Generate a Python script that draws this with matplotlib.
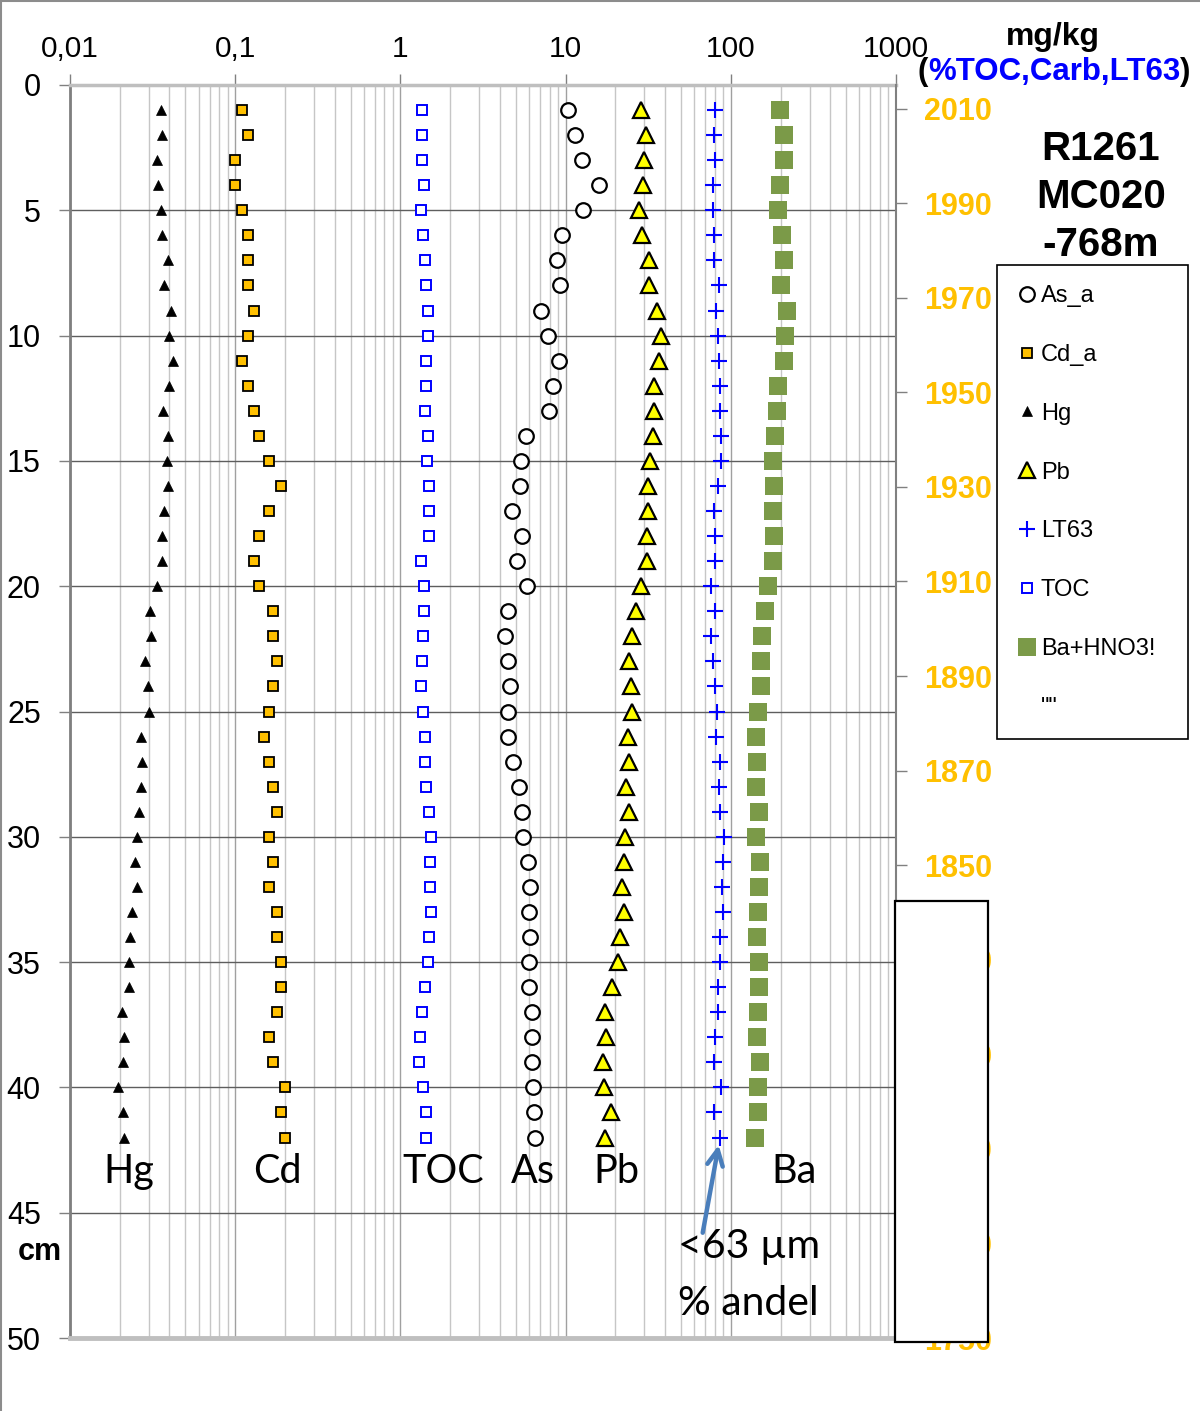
import matplotlib
matplotlib.use('Agg')
import matplotlib.pyplot as plt
from matplotlib.lines import Line2D
from matplotlib.patches import Rectangle
from matplotlib.ticker import NullFormatter

plt.rcParams['font.family'] = ['Liberation Sans', 'DejaVu Sans']

# ---------------- data ----------------
depth = list(range(1, 43))

hg = [0.0356, 0.0359, 0.0337, 0.0340, 0.0356, 0.0359, 0.0394, 0.0371, 0.0411, 0.0400,
      0.0419, 0.0400, 0.0365, 0.0390, 0.0389, 0.0394, 0.0371, 0.0359, 0.0359, 0.0337,
      0.0307, 0.0310, 0.0285, 0.0298, 0.0300, 0.0269, 0.0273, 0.0268, 0.0261, 0.0254,
      0.0249, 0.0253, 0.0238, 0.0231, 0.0229, 0.0228, 0.0207, 0.0213, 0.0210, 0.0196,
      0.0210, 0.0213]

cd = [0.11, 0.12, 0.10, 0.10, 0.11, 0.12, 0.12, 0.12, 0.13, 0.12,
      0.11, 0.12, 0.13, 0.14, 0.16, 0.19, 0.16, 0.14, 0.13, 0.14,
      0.17, 0.17, 0.18, 0.17, 0.16, 0.15, 0.16, 0.17, 0.18, 0.16,
      0.17, 0.16, 0.18, 0.18, 0.19, 0.19, 0.18, 0.16, 0.17, 0.20,
      0.19, 0.20]

toc = [1.35, 1.35, 1.36, 1.38, 1.34, 1.37, 1.41, 1.43, 1.46, 1.46,
       1.43, 1.43, 1.40, 1.46, 1.44, 1.48, 1.50, 1.48, 1.33, 1.39,
       1.38, 1.37, 1.36, 1.33, 1.37, 1.40, 1.41, 1.42, 1.48, 1.54,
       1.52, 1.52, 1.54, 1.48, 1.46, 1.41, 1.36, 1.32, 1.30, 1.37,
       1.43, 1.42]

as_a = [10.3, 11.4, 12.5, 16.0, 12.7, 9.55, 8.9, 9.24, 7.05, 7.78,
        9.11, 8.42, 7.96, 5.75, 5.39, 5.28, 4.77, 5.41, 5.07, 5.80,
        4.49, 4.27, 4.51, 4.58, 4.47, 4.47, 4.79, 5.19, 5.41, 5.51,
        5.94, 6.05, 6.00, 6.05, 6.00, 6.00, 6.22, 6.25, 6.25, 6.31,
        6.43, 6.55]

pb = [28.8, 30.5, 29.8, 29.3, 27.8, 29.0, 32.0, 32.1, 35.7, 38.0,
      36.6, 34.3, 34.1, 34.0, 32.4, 31.7, 31.6, 31.0, 31.0, 28.8,
      26.8, 25.1, 24.2, 25.0, 25.2, 23.7, 24.3, 23.3, 24.3, 22.9,
      22.7, 21.9, 22.6, 21.2, 20.9, 19.2, 17.2, 17.5, 16.8, 17.1,
      18.7, 17.4]

lt63 = [80.0, 79.2, 80.0, 78.2, 78.5, 79.0, 79.0, 85.0, 81.5, 84.1,
        85.3, 86.1, 85.7, 86.9, 87.8, 83.7, 79.0, 80.3, 80.7, 76.0,
        80.0, 75.7, 78.2, 80.3, 83.0, 81.9, 86.1, 85.3, 85.7, 90.8,
        89.1, 88.6, 90.3, 86.5, 86.5, 84.1, 84.1, 80.7, 78.7, 87.4,
        79.0, 86.1]

ba = [198, 210, 210, 198, 193, 203, 211, 202, 218, 212,
      209, 193, 190, 184, 180, 182, 181, 182, 180, 169,
      162, 154, 152, 152, 146, 142, 145, 143, 148, 142,
      151, 149, 147, 145, 149, 148, 147, 144, 150, 146,
      147, 140]

x_ticks = [0.01, 0.1, 1, 10, 100, 1000]
x_tick_labels = ['0,01', '0,1', '1', '10', '100', '1000']
depth_ticks = [0, 5, 10, 15, 20, 25, 30, 35, 40, 45, 50]
year_ticks = [1750, 1770, 1790, 1810, 1830, 1850, 1870, 1890, 1910, 1930, 1950, 1970, 1990, 2010]

# ---------------- figure ----------------
W, H = 1200, 1411
fig = plt.figure(figsize=(W / 100, H / 100), dpi=100)
ax = fig.add_axes([70 / W, 1 - 1338 / H, 826 / W, 1253 / H])
ax.set_xscale('log')
ax.set_xlim(0.01, 1000)
ax.set_ylim(50, 0)

h_as, = ax.plot(as_a, depth, ls='none', marker='o', ms=10.5, mfc='white', mec='black', mew=1.6, label='As_a', zorder=3)
h_cd, = ax.plot(cd, depth, ls='none', marker='s', ms=7.8, mfc='#FFC000', mec='black', mew=1.3, label='Cd_a', zorder=3)
h_hg, = ax.plot(hg, depth, ls='none', marker='^', ms=7.2, mfc='black', mec='black', mew=0.5, label='Hg', zorder=3)
h_pb, = ax.plot(pb, depth, ls='none', marker='^', ms=11, mfc='#FFFF00', mec='black', mew=1.6, label='Pb', zorder=3)
h_lt, = ax.plot(lt63, depth, ls='none', marker='+', ms=11.5, mec='#0000FF', mew=1.5, label='LT63', zorder=3)
h_toc, = ax.plot(toc, depth, ls='none', marker='s', ms=7.8, mfc='white', mec='#0000FF', mew=1.4, label='TOC', zorder=3)
h_ba, = ax.plot(ba, depth, ls='none', marker='s', ms=13, mfc='#7b9a48', mec='#7b9a48', mew=0, label='Ba+HNO3!', zorder=3)

# grid
ax.set_axisbelow(True)
ax.grid(which='minor', axis='x', color='#c6c6c6', lw=1)
ax.grid(which='major', axis='x', color='#a0a0a0', lw=1)
ax.grid(which='major', axis='y', color='#5e5e5e', lw=1)

# ticks
ax.set_xticks(x_ticks)
ax.set_xticklabels(x_tick_labels)
ax.xaxis.set_minor_formatter(NullFormatter())
ax.tick_params(axis='x', which='major', bottom=False, top=True, labelbottom=False, labeltop=True,
               length=8, width=1, color='#808080', pad=8, labelsize=21.5)
ax.tick_params(axis='x', which='minor', bottom=False, top=False, length=0)
ax.set_yticks(depth_ticks)
ax.tick_params(axis='y', which='major', left=True, right=False, length=8, width=1,
               color='#808080', pad=13, labelsize=22)

for s, c, lw in [('left', '#7f7f7f', 2), ('top', '#bfbfbf', 2.5), ('bottom', '#bfbfbf', 3.5)]:
    ax.spines[s].set_color(c)
    ax.spines[s].set_linewidth(lw)
ax.spines['right'].set_visible(False)

# secondary year axis
ax2 = ax.twinx()
ax2.set_ylim(1750, 2015)
ax2.set_yticks(year_ticks)
ax2.tick_params(axis='y', length=8, width=1, color='#808080', pad=12, labelsize=22,
                labelcolor='#FFC000')
for lab in ax2.get_yticklabels():
    lab.set_fontweight('bold')
for s in ['left', 'top', 'bottom']:
    ax2.spines[s].set_visible(False)
ax2.spines['right'].set_color('#808080')
ax2.spines['right'].set_linewidth(1.5)

# annotations inside the plot
cal = ['Lato', 'DejaVu Sans']
for txt, xv in [('Hg', 0.0228), ('Cd', 0.18), ('TOC', 1.82), ('As', 6.3), ('Pb', 20.4), ('Ba', 241)]:
    ax.text(xv, 43.8, txt, ha='center', va='baseline', fontsize=28.5, family=cal, zorder=4)
ax.text(47.7, 46.8, '<63 µm', ha='left', va='baseline', fontsize=29.5, family=cal, zorder=4)
ax.text(47.7, 49.1, '% andel', ha='left', va='baseline', fontsize=29.5, family=cal, zorder=4)
ax.annotate('', xy=(84.5, 42.3), xytext=(67.6, 45.8),
            arrowprops=dict(arrowstyle='->', color='#4a7ebb', lw=3.2, mutation_scale=28,
                            shrinkA=0, shrinkB=0), zorder=4)

# cm label
fig.text(40 / W, 1 - 1252 / H, 'cm', ha='center', va='center', fontsize=22, fontweight='bold')

# top right texts
fig.text(1053 / W, 1 - 45 / H, 'mg/kg', ha='center', va='baseline', fontsize=23, fontweight='bold')
t_mid = fig.text(1054 / W, 1 - 80 / H, '%TOC,Carb,LT63', ha='center', va='baseline',
                 fontsize=22.5, fontweight='bold', color='#0000FF')
fig.canvas.draw()
bb = t_mid.get_window_extent()
fig.text(bb.x0 / W, 1 - 80 / H, '(', ha='right', va='baseline', fontsize=22.5, fontweight='bold')
fig.text(bb.x1 / W, 1 - 80 / H, ')', ha='left', va='baseline', fontsize=22.5, fontweight='bold')

for txt, yb in [('R1261', 160), ('MC020', 208), ('-768m', 256)]:
    fig.text(1101 / W, 1 - yb / H, txt, ha='center', va='baseline', fontsize=29, fontweight='bold')

# legend
h_empty = Line2D([], [], ls='none', marker=None)
leg = fig.legend([h_as, h_cd, h_hg, h_pb, h_lt, h_toc, h_ba, h_empty],
                 ['As_a', 'Cd_a', 'Hg', 'Pb', 'LT63', 'TOC', 'Ba+HNO3!', '""'],
                 loc='upper left', bbox_to_anchor=(997 / W, 1 - 735 / H, 191 / W, 470 / H),
                 mode='expand', fontsize=17, frameon=True, fancybox=False, framealpha=1,
                 edgecolor='black', handlelength=0.8, handletextpad=0.2, borderpad=0.85,
                 labelspacing=1.56, markerscale=1.0, borderaxespad=0)
leg.get_frame().set_linewidth(1.2)

# white box covering lower year labels
fig.add_artist(Rectangle((895 / W, 1 - 1342 / H), 93 / W, 441 / H, transform=fig.transFigure,
                         facecolor='white', edgecolor='black', lw=1.6, zorder=10))

# chart border (left and top visible)
fig.add_artist(Line2D([0.0008, 0.0008], [0, 1], transform=fig.transFigure, color='#8c8c8c', lw=1.5, zorder=11))
fig.add_artist(Line2D([0, 1], [0.9994, 0.9994], transform=fig.transFigure, color='#8c8c8c', lw=1.5, zorder=11))

fig.savefig('out.png', dpi=100)
